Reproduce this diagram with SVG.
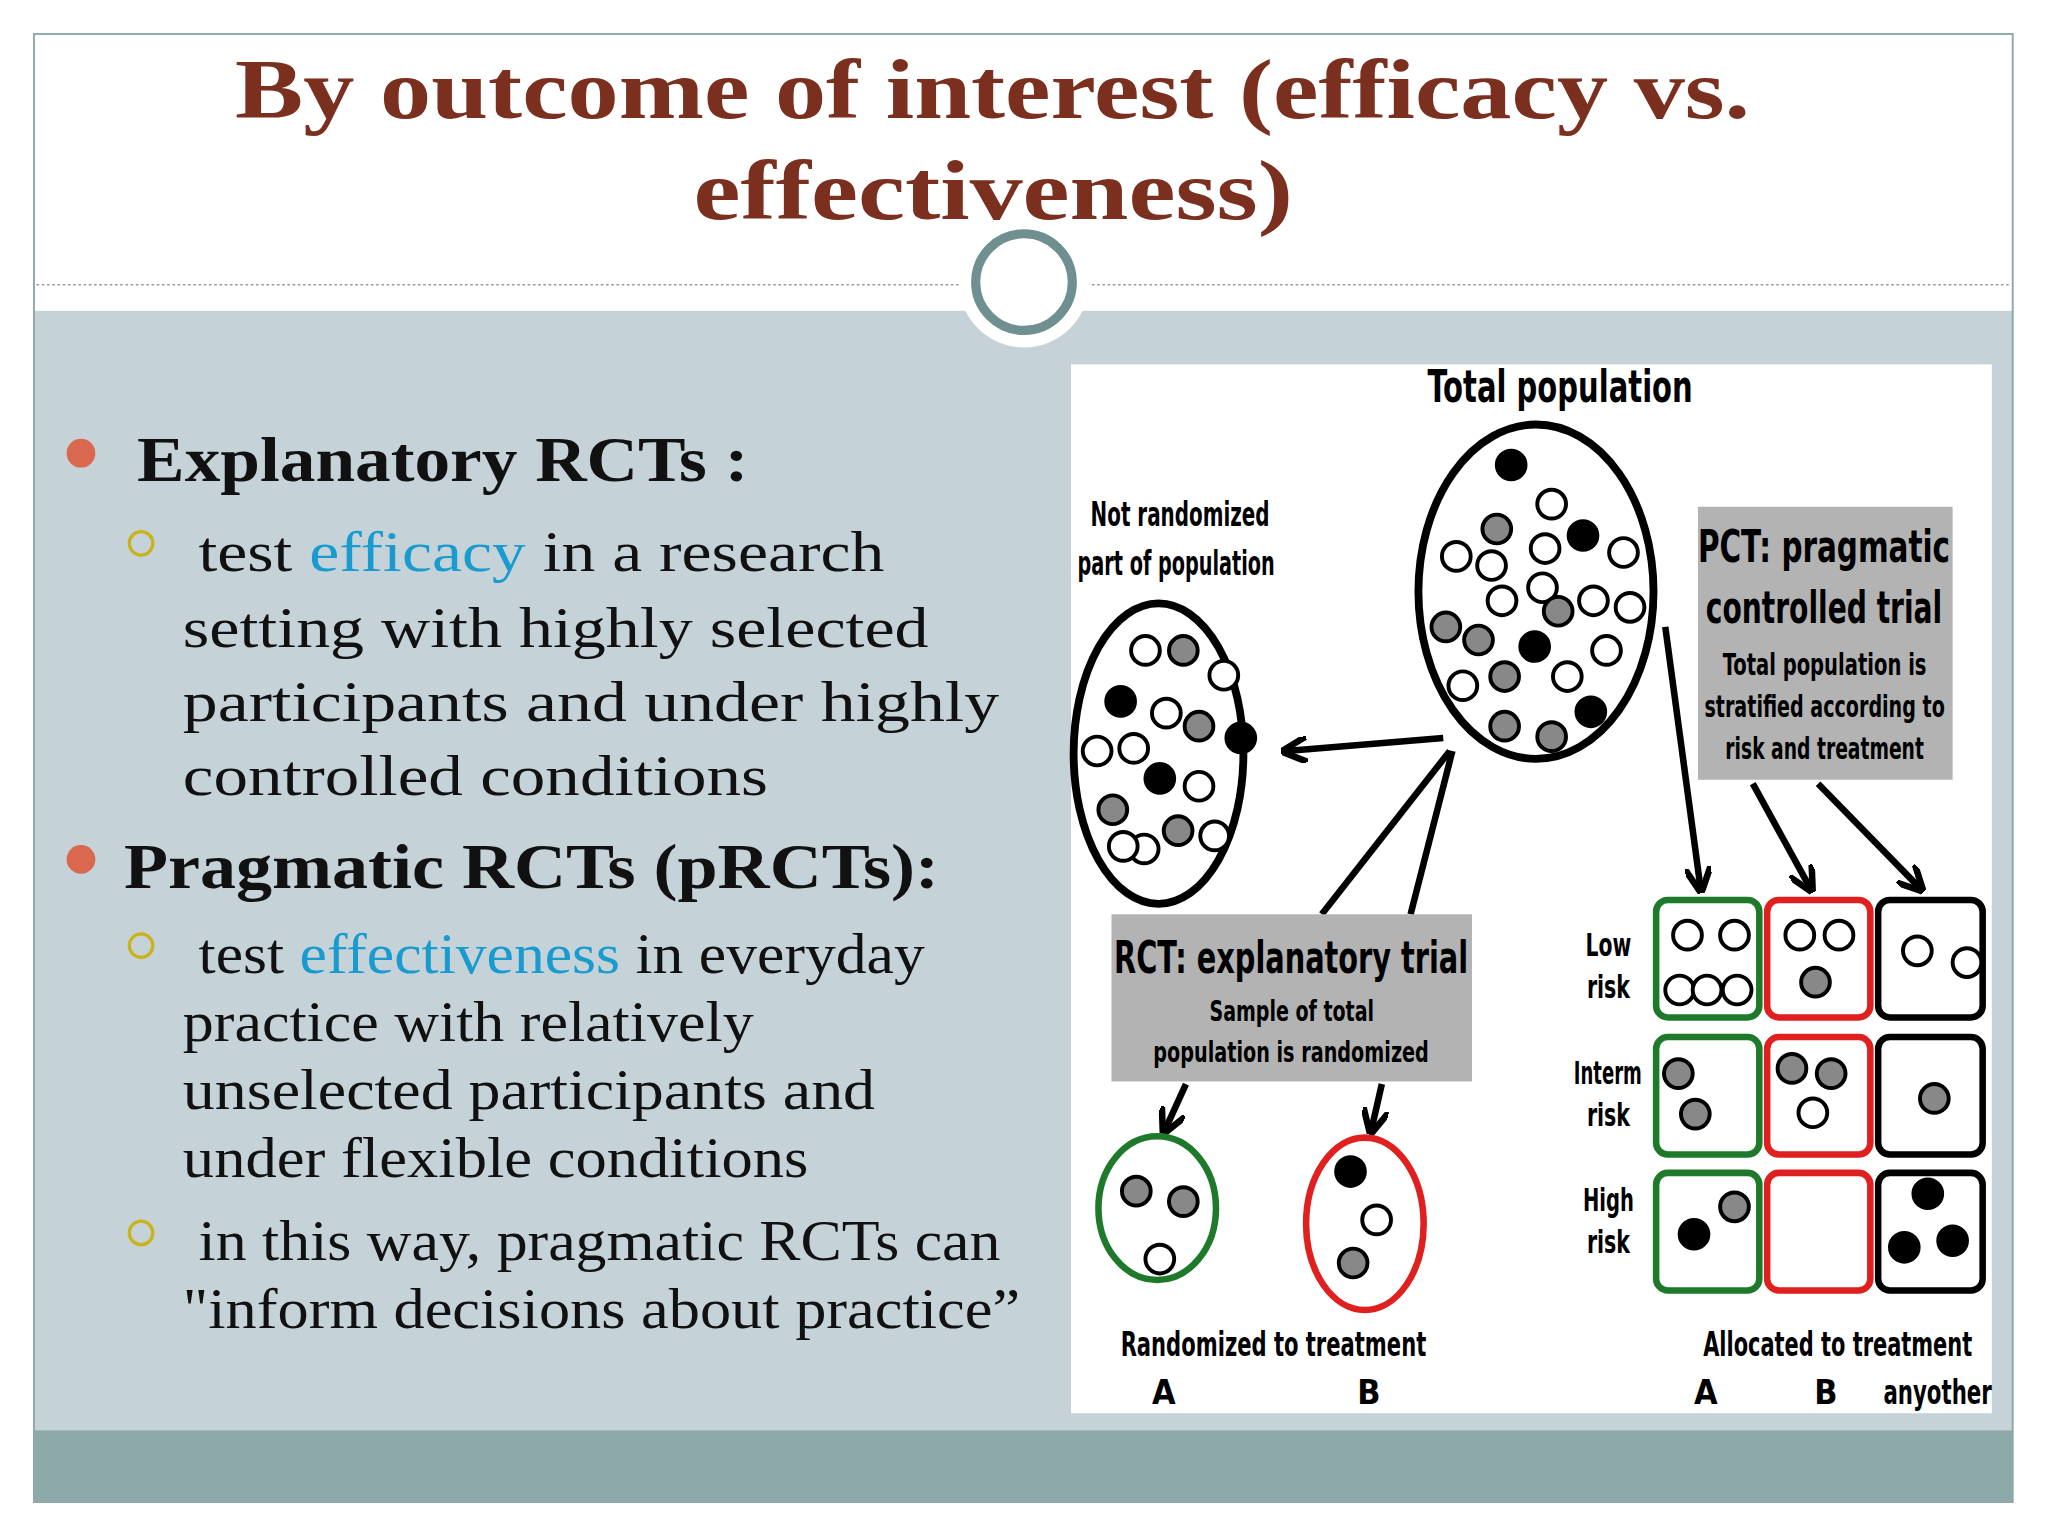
<svg xmlns="http://www.w3.org/2000/svg" width="2048" height="1536" viewBox="0 0 2048 1536">
<defs>
<marker id="ah" viewBox="0 0 10 10" refX="8" refY="5" markerWidth="4" markerHeight="4" orient="auto"><path d="M0,0 L10,5 L0,10" fill="none" stroke="#000" stroke-width="2.5"/></marker>
</defs>
<style>
.t{font-family:"Liberation Serif","DejaVu Serif",serif}
.n{font-family:"Liberation Sans Narrow","DejaVu Sans Condensed",sans-serif;font-weight:bold;fill:#000}
.w{fill:#fff;stroke:#000;stroke-width:3}
.g{fill:#888;stroke:#000;stroke-width:3}
.k{fill:#000;stroke:#000;stroke-width:3}
.c{fill:#fff;stroke-width:5}
.a{stroke:#000;stroke-width:5;fill:none}
</style>
<rect width="2048" height="1536" fill="#fff"/>
<g transform="scale(1.3061)">
<rect x="26" y="238" width="1515" height="857" fill="#c5d3d8"/>
<rect x="26" y="1095" width="1515" height="55" fill="#8ea9aa"/>
<rect x="26" y="26" width="1515" height="1124" fill="none" stroke="#8ea9aa" stroke-width="1.5"/>
<line x1="28" y1="218" x2="1539" y2="218" stroke="#999" stroke-dasharray="2,2"/>
<circle cx="784" cy="216" r="50" fill="#fff"/>
<circle cx="784" cy="216" r="37" fill="#fff" stroke="#6f8f90" stroke-width="7"/>
<g class="t" font-weight="bold" font-size="64" fill="#7b2f1f" lengthAdjust="spacingAndGlyphs">
<text x="180" y="90" textLength="1160" lengthAdjust="spacingAndGlyphs">By outcome of interest (efficacy vs.</text>
<text x="531" y="168" textLength="459" lengthAdjust="spacingAndGlyphs">effectiveness)</text>
</g>
<g id="text">
<circle cx="62" cy="347" r="11" fill="#d9684f"/>
<circle cx="62" cy="658" r="11" fill="#d9684f"/>
<g fill="none" stroke="#c9b21a" stroke-width="2.5"><circle cx="108" cy="416" r="9"/><circle cx="108" cy="724" r="9"/><circle cx="108" cy="944" r="9"/></g>
<g class="t" font-size="44" fill="#111">
<text x="105" y="368" font-weight="bold" font-size="48" textLength="468" lengthAdjust="spacingAndGlyphs">Explanatory RCTs :</text>
<text x="152" y="437" textLength="525" lengthAdjust="spacingAndGlyphs">test <tspan fill="#1a9bd0">efficacy</tspan> in a research</text>
<text x="140" y="495" textLength="571" lengthAdjust="spacingAndGlyphs">setting with highly selected</text>
<text x="140" y="552" textLength="625" lengthAdjust="spacingAndGlyphs">participants and under highly</text>
<text x="140" y="609" textLength="448" lengthAdjust="spacingAndGlyphs">controlled conditions</text>
<text x="95" y="680" font-weight="bold" font-size="48" textLength="624" lengthAdjust="spacingAndGlyphs">Pragmatic RCTs (pRCTs):</text>
<text x="152" y="745" textLength="556" lengthAdjust="spacingAndGlyphs">test <tspan fill="#1a9bd0">effectiveness</tspan> in everyday</text>
<text x="140" y="797" textLength="437" lengthAdjust="spacingAndGlyphs">practice with relatively</text>
<text x="140" y="849" textLength="530" lengthAdjust="spacingAndGlyphs">unselected participants and</text>
<text x="140" y="901" textLength="479" lengthAdjust="spacingAndGlyphs">under flexible conditions</text>
<text x="152" y="965" textLength="614" lengthAdjust="spacingAndGlyphs">in this way, pragmatic RCTs can</text>
<text x="140" y="1017" textLength="641" lengthAdjust="spacingAndGlyphs">"inform decisions about practice”</text>
</g>
</g>
<rect x="820" y="279" width="705" height="803" fill="#fff"/>
<g id="connectors">
<line class="a" x1="1105" y1="565" x2="985" y2="575" marker-end="url(#ah)"/>
<line class="a" x1="1110" y1="575" x2="1012" y2="700"/>
<line class="a" x1="1112" y1="575" x2="1080" y2="700"/>
<line class="a" x1="908" y1="830" x2="892" y2="865" marker-end="url(#ah)"/>
<line class="a" x1="1058" y1="830" x2="1050" y2="865" marker-end="url(#ah)"/>
<line class="a" x1="1275" y1="480" x2="1302" y2="680" marker-end="url(#ah)"/>
<line class="a" x1="1342" y1="600" x2="1386" y2="680" marker-end="url(#ah)"/>
<line class="a" x1="1392" y1="600" x2="1470" y2="680" marker-end="url(#ah)"/>
</g>
<g id="total">
<ellipse cx="1176" cy="453" rx="90" ry="128" fill="#fff" stroke="#000" stroke-width="6"/>
<circle class="k" cx="1157" cy="356" r="11"/><circle class="w" cx="1188" cy="386" r="11"/>
<circle class="g" cx="1146" cy="405" r="11"/><circle class="w" cx="1115" cy="426" r="11"/><circle class="w" cx="1142" cy="433" r="11"/>
<circle class="w" cx="1183" cy="420" r="11"/><circle class="k" cx="1212" cy="410" r="11"/><circle class="w" cx="1243" cy="423" r="11"/>
<circle class="w" cx="1150" cy="460" r="11"/><circle class="w" cx="1181" cy="450" r="11"/><circle class="g" cx="1193" cy="468" r="11"/>
<circle class="w" cx="1220" cy="460" r="11"/><circle class="w" cx="1248" cy="465" r="11"/><circle class="g" cx="1107" cy="480" r="11"/>
<circle class="g" cx="1132" cy="490" r="11"/><circle class="k" cx="1175" cy="495" r="11"/><circle class="w" cx="1230" cy="498" r="11"/>
<circle class="w" cx="1120" cy="525" r="11"/><circle class="g" cx="1152" cy="518" r="11"/><circle class="w" cx="1200" cy="518" r="11"/>
<circle class="g" cx="1152" cy="556" r="11"/><circle class="g" cx="1188" cy="564" r="11"/><circle class="k" cx="1218" cy="545" r="11"/>
<text class="n" x="1093" y="308" font-size="34" textLength="203" lengthAdjust="spacingAndGlyphs">Total population</text>
</g>
<g id="notrand">
<ellipse cx="887" cy="577" rx="65" ry="115" fill="#fff" stroke="#000" stroke-width="6"/>
<circle class="w" cx="877" cy="498" r="11"/><circle class="g" cx="906" cy="498" r="11"/><circle class="w" cx="937" cy="517" r="11"/>
<circle class="k" cx="858" cy="537" r="11"/><circle class="w" cx="893" cy="546" r="11"/><circle class="g" cx="918" cy="556" r="11"/>
<circle class="w" cx="840" cy="575" r="11"/><circle class="w" cx="868" cy="573" r="11"/><circle class="k" cx="950" cy="565" r="11"/>
<circle class="k" cx="888" cy="596" r="11"/><circle class="w" cx="918" cy="602" r="11"/><circle class="g" cx="852" cy="620" r="11"/>
<circle class="w" cx="876" cy="650" r="11"/><circle class="g" cx="902" cy="636" r="11"/><circle class="w" cx="930" cy="640" r="11"/><circle class="w" cx="860" cy="648" r="11"/>
<text class="n" x="835" y="403" font-size="26" textLength="137" lengthAdjust="spacingAndGlyphs">Not randomized</text>
<text class="n" x="825" y="440" font-size="26" textLength="151" lengthAdjust="spacingAndGlyphs">part of population</text>
</g>
<g id="pct">
<rect x="1300" y="388" width="195" height="209" fill="#b3b3b3"/>
<text class="n" x="1300" y="430" font-size="34" textLength="193" lengthAdjust="spacingAndGlyphs">PCT: pragmatic</text>
<text class="n" x="1306" y="477" font-size="34" textLength="181" lengthAdjust="spacingAndGlyphs">controlled trial</text>
<text class="n" x="1319" y="517" font-size="23" textLength="156" lengthAdjust="spacingAndGlyphs">Total population is</text>
<text class="n" x="1305" y="549" font-size="23" textLength="184" lengthAdjust="spacingAndGlyphs">stratified according to</text>
<text class="n" x="1321" y="581" font-size="23" textLength="152" lengthAdjust="spacingAndGlyphs">risk and treatment</text>
</g>
<g id="rct">
<rect x="851" y="700" width="276" height="128" fill="#b3b3b3"/>
<text class="n" x="853" y="745" font-size="34" textLength="271" lengthAdjust="spacingAndGlyphs">RCT: explanatory trial</text>
<text class="n" x="926" y="782" font-size="22" textLength="126" lengthAdjust="spacingAndGlyphs">Sample of total</text>
<text class="n" x="883" y="813" font-size="22" textLength="211" lengthAdjust="spacingAndGlyphs">population is randomized</text>
</g>
<g id="armA">
<ellipse class="c" cx="886" cy="925" rx="45" ry="55" stroke="#1e7a2a"/>
<circle class="g" cx="870" cy="912" r="11"/><circle class="g" cx="906" cy="920" r="11"/><circle class="w" cx="888" cy="964" r="11"/>
</g>
<g id="armB">
<ellipse class="c" cx="1045" cy="937" rx="45" ry="66" stroke="#e01f1f"/>
<circle class="k" cx="1034" cy="897" r="11"/><circle class="w" cx="1054" cy="934" r="11"/><circle class="g" cx="1036" cy="967" r="11"/>
</g>
<g id="grid">
<g fill="#fff" stroke-width="5">
<rect x="1268" y="689" width="79" height="90" rx="9" stroke="#1e7a2a"/><rect x="1353" y="689" width="79" height="90" rx="9" stroke="#e01f1f"/><rect x="1438" y="689" width="80" height="90" rx="9" stroke="#000"/>
<rect x="1268" y="794" width="79" height="90" rx="9" stroke="#1e7a2a"/><rect x="1353" y="794" width="79" height="90" rx="9" stroke="#e01f1f"/><rect x="1438" y="794" width="80" height="90" rx="9" stroke="#000"/>
<rect x="1268" y="898" width="79" height="90" rx="9" stroke="#1e7a2a"/><rect x="1353" y="898" width="79" height="90" rx="9" stroke="#e01f1f"/><rect x="1438" y="898" width="80" height="90" rx="9" stroke="#000"/>
</g>
<circle class="w" cx="1292" cy="716" r="11"/><circle class="w" cx="1328" cy="716" r="11"/><circle class="w" cx="1286" cy="758" r="11"/><circle class="w" cx="1307" cy="758" r="11"/><circle class="w" cx="1330" cy="758" r="11"/>
<circle class="w" cx="1378" cy="716" r="11"/><circle class="w" cx="1408" cy="716" r="11"/><circle class="g" cx="1390" cy="752" r="11"/>
<circle class="w" cx="1468" cy="728" r="11"/><circle class="w" cx="1506" cy="737" r="11"/>
<circle class="g" cx="1285" cy="822" r="11"/><circle class="g" cx="1298" cy="853" r="11"/>
<circle class="g" cx="1372" cy="818" r="11"/><circle class="g" cx="1402" cy="822" r="11"/><circle class="w" cx="1388" cy="852" r="11"/>
<circle class="g" cx="1481" cy="841" r="11"/>
<circle class="k" cx="1297" cy="945" r="11"/><circle class="g" cx="1328" cy="924" r="11"/>
<circle class="k" cx="1476" cy="914" r="11"/><circle class="k" cx="1458" cy="955" r="11"/><circle class="k" cx="1495" cy="950" r="11"/>
<g class="n" font-size="24">
<text x="1214" y="732" textLength="35" lengthAdjust="spacingAndGlyphs">Low</text><text x="1215" y="764" textLength="33" lengthAdjust="spacingAndGlyphs">risk</text>
<text x="1205" y="830" textLength="52" lengthAdjust="spacingAndGlyphs">Interm</text><text x="1215" y="862" textLength="33" lengthAdjust="spacingAndGlyphs">risk</text>
<text x="1212" y="927" textLength="39" lengthAdjust="spacingAndGlyphs">High</text><text x="1215" y="959" textLength="33" lengthAdjust="spacingAndGlyphs">risk</text>
</g>
</g>
<g class="n" font-size="26">
<text x="858" y="1038" textLength="234" lengthAdjust="spacingAndGlyphs">Randomized to treatment</text>
<text x="891" y="1075" text-anchor="middle">A</text><text x="1048" y="1075" text-anchor="middle">B</text>
<text x="1304" y="1038" textLength="206" lengthAdjust="spacingAndGlyphs">Allocated to treatment</text>
<text x="1306" y="1075" text-anchor="middle">A</text><text x="1398" y="1075" text-anchor="middle">B</text><text x="1442" y="1075" textLength="83" lengthAdjust="spacingAndGlyphs">anyother</text>
</g>
</g>
</svg>
